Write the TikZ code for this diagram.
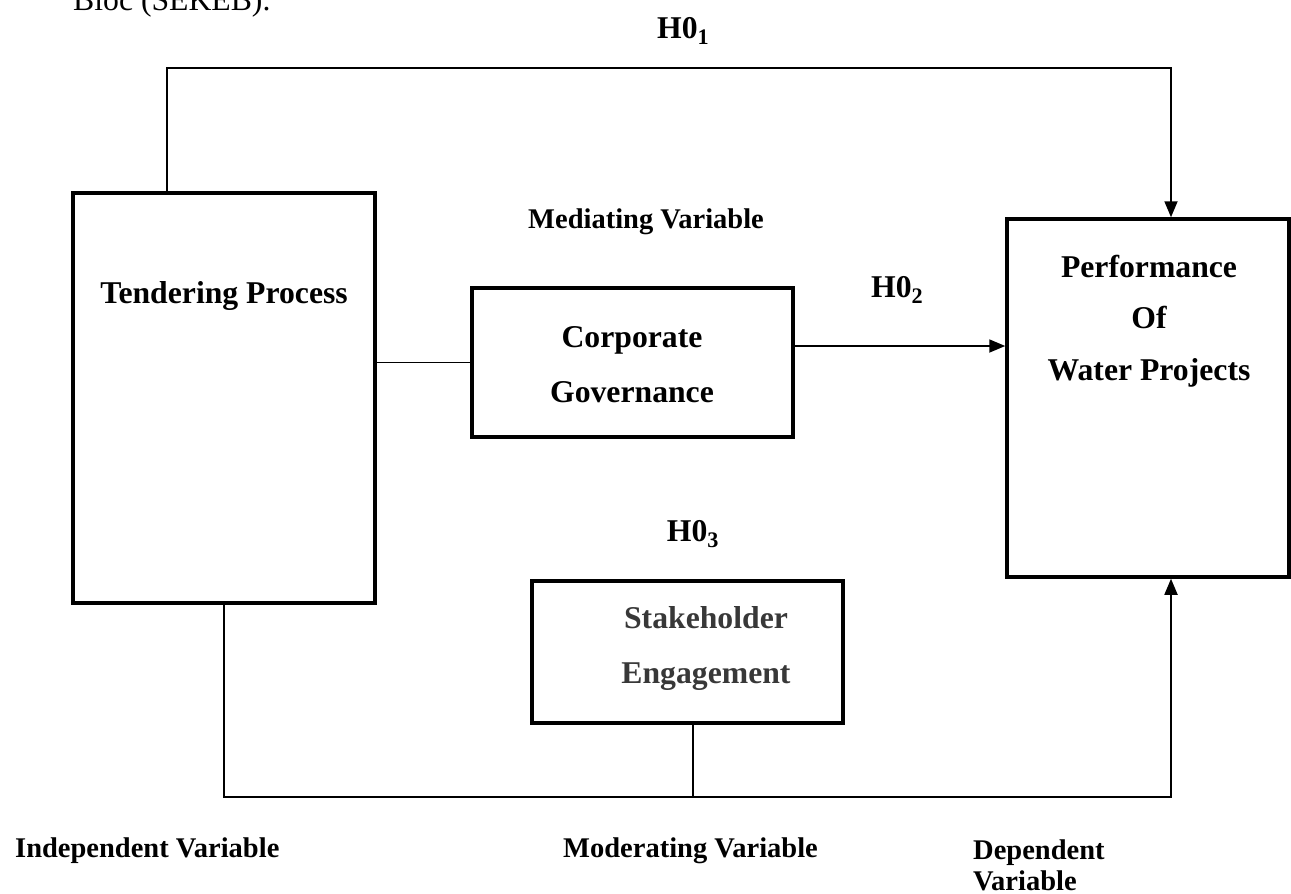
\documentclass[tikz,border=0pt]{standalone}
\usepackage{fontspec}
\setmainfont{Liberation Serif}
\usetikzlibrary{arrows.meta}
\begin{document}
\begin{tikzpicture}[x=1pt,y=-1pt,
  box/.style={draw, line width=3.5pt, rectangle, inner sep=0pt},
  boxtext/.style={font=\fontsize{31.7}{38}\selectfont\bfseries, inner sep=0pt, anchor=base},
  lbl/.style={font=\fontsize{28.5}{33}\selectfont\bfseries, inner sep=0pt, anchor=base west},
  link/.style={line width=1.8pt},
  arr/.style={link, -{Triangle[length=16pt,width=13pt]}}]
\useasboundingbox (0,0) rectangle (1291,894);

% leftover line of body text above the figure
\node[font=\fontsize{31.7}{38}\selectfont, inner sep=0pt, anchor=base west] (bloc) at (73,10) {Bloc (SEKEB).};

% boxes
\node[box, minimum width=302pt, minimum height=410pt] (tend) at (224,398) {};
\node[box, minimum width=321pt, minimum height=149pt] (corp) at (632.5,362.5) {};
\node[box, minimum width=311pt, minimum height=142pt] (stake) at (687.5,652) {};
\node[box, minimum width=282pt, minimum height=358pt] (perf) at (1148,398) {};

% box texts
\node[boxtext] (tendT) at (224,303) {Tendering Process};
\node[boxtext] (corpT1) at (632,347) {Corporate};
\node[boxtext] (corpT2) at (632,402) {Governance};
\node[boxtext, text=black!78] (stakeT1) at (706,628) {Stakeholder};
\node[boxtext, text=black!78] (stakeT2) at (706,683) {Engagement};
\node[boxtext] (perfT1) at (1149,277) {Performance};
\node[boxtext] (perfT2) at (1149,328) {Of};
\node[boxtext] (perfT3) at (1149,380) {Water Projects};

% hypothesis labels
\node[boxtext, anchor=base west] (h1) at (657,38) {H0\textsubscript{1}};
\node[boxtext, anchor=base west] (h2) at (871,297) {H0\textsubscript{2}};
\node[boxtext] (h3) at (693,541) {H0\textsubscript{3}};

% variable labels
\node[lbl] (med) at (528,228) {Mediating Variable};
\node[lbl] (ind) at (15,857) {Independent Variable};
\node[lbl] (mod) at (563,857) {Moderating Variable};
\node[lbl] (dep1) at (973,859) {Dependent};
\node[lbl] (dep2) at (973,890) {Variable};

% routing points
\coordinate (topL) at (167,68);
\coordinate (topR) at (1171,68);
\coordinate (botL) at (224,797);
\coordinate (botM) at (693,797);
\coordinate (botR) at (1171,797);
\coordinate (midR) at (793,346);

% connectors
\draw[arr] (tend.north -| topL) |- (topR) -- (perf.north -| topR);
\draw[link] (corp.west -| tend.east) -- (corp.west);
\draw[arr] (corp.east |- midR) -- (perf.west |- midR);
\draw[arr] (tend.south -| botL) |- (botR) -- (perf.south -| botR);
\draw[link] (stake.south -| botM) -- (botM);
\end{tikzpicture}
\end{document}
